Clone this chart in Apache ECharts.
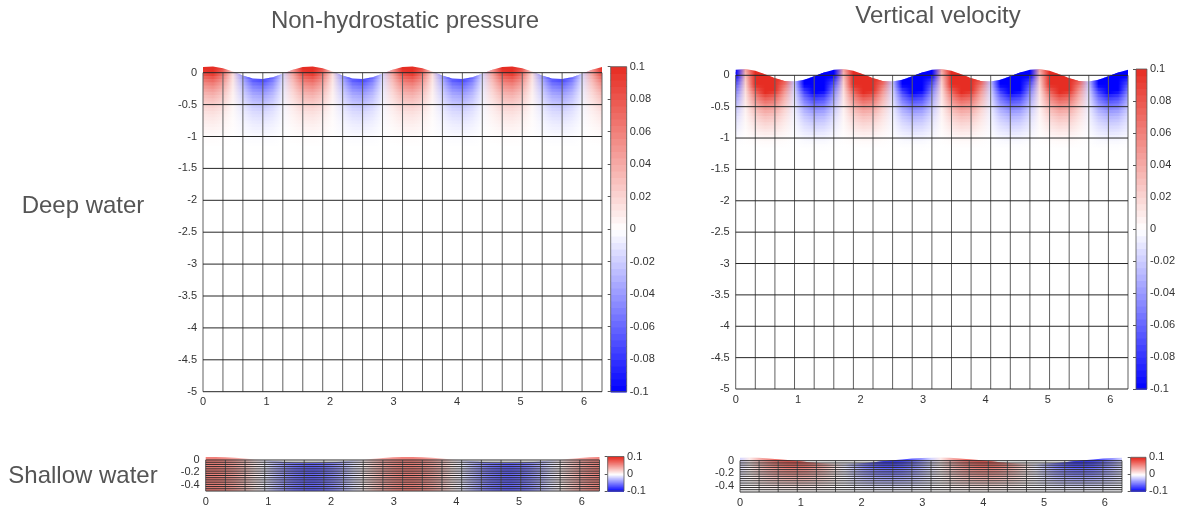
<!DOCTYPE html>
<html><head><meta charset="utf-8">
<script src="https://cdn.jsdelivr.net/npm/echarts@6/dist/echarts.min.js"></script>
<style>html,body{margin:0;padding:0;background:#fff}#c{width:1178px;height:512px}</style>
</head><body><div id="c"></div>
<script>
// ---- data grid ----
const sampleX = [0,0.157,0.314,0.471,0.628,0.785,0.942,1.100,1.257,1.414,1.571,1.728,1.885,2.042,2.199,2.356,2.513,2.670,2.827,2.985,3.142,3.299,3.456,3.613,3.770,3.927,4.084,4.241,4.398,4.555,4.712,4.869,5.027,5.184,5.341,5.498,5.655,5.812,5.969,6.126,6.283];
const meshX = [0,0.314,0.628,0.942,1.257,1.571,1.885,2.199,2.513,2.827,3.142,3.456,3.770,4.084,4.398,4.712,5.027,5.341,5.655,5.969,6.283];
const meshZDeep = [0,-0.5,-1,-1.5,-2,-2.5,-3,-3.5,-4,-4.5,-5];
const meshZShallow = [0,-0.036,-0.071,-0.107,-0.143,-0.179,-0.214,-0.25,-0.286,-0.321,-0.357,-0.393,-0.429,-0.464,-0.5];

// ---- deep water: surface elevation and surface values ----
const etaDeep = [0.089,0.099,0.071,0.017,-0.045,-0.089,-0.099,-0.071,-0.017,0.045,
                 0.089,0.099,0.071,0.017,-0.045,-0.089,-0.099,-0.071,-0.017,0.045,
                 0.089,0.099,0.071,0.017,-0.045,-0.089,-0.099,-0.071,-0.017,0.045,
                 0.089,0.099,0.071,0.017,-0.045,-0.089,-0.099,-0.071,-0.017,0.045,0.089];
const pressDeep = [0.089,0.099,0.071,0.017,-0.045,-0.089,-0.099,-0.071,-0.017,0.045,
                   0.089,0.099,0.071,0.017,-0.045,-0.089,-0.099,-0.071,-0.017,0.045,
                   0.089,0.099,0.071,0.017,-0.045,-0.089,-0.099,-0.071,-0.017,0.045,
                   0.089,0.099,0.071,0.017,-0.045,-0.089,-0.099,-0.071,-0.017,0.045,0.089];
const velDeep = [-0.101,0.033,0.154,0.217,0.197,0.101,-0.033,-0.154,-0.217,-0.197,
                 -0.101,0.033,0.154,0.217,0.197,0.101,-0.033,-0.154,-0.217,-0.197,
                 -0.101,0.033,0.154,0.217,0.197,0.101,-0.033,-0.154,-0.217,-0.197,
                 -0.101,0.033,0.154,0.217,0.197,0.101,-0.033,-0.154,-0.217,-0.197,-0.101];
const zLevelsDeep = [0.1,0.05,0,-0.05,-0.1,-0.15,-0.2,-0.25,-0.3,-0.35,-0.4,-0.45,-0.5,-0.55,-0.6,-0.65,-0.7,-0.75,-0.8,-0.85,-0.9,-0.95,-1.0,-1.05,-1.1,-1.15,-1.2];
const decayDeep = [1.3,1.15,1.0,0.87,0.76,0.66,0.57,0.5,0.43,0.37,0.32,0.28,0.24,0.2,0.17,0.14,0.12,0.1,0.08,0.065,0.05,0.035,0.02,0.012,0.006,0.002,0];

// ---- shallow water ----
const etaShallow = [0.049,0.050,0.046,0.037,0.025,0.010,-0.006,-0.021,-0.034,-0.044,-0.049,-0.050,-0.046,-0.037,-0.025,-0.010,0.006,0.021,0.034,0.044,
                    0.049,0.050,0.046,0.037,0.025,0.010,-0.006,-0.021,-0.034,-0.044,-0.049,-0.050,-0.046,-0.037,-0.025,-0.010,0.006,0.021,0.034,0.044,0.049];
const pressShallow = [0.059,0.060,0.055,0.044,0.030,0.012,-0.007,-0.025,-0.041,-0.052,-0.059,-0.060,-0.055,-0.044,-0.030,-0.012,0.007,0.025,0.041,0.052,
                      0.059,0.060,0.055,0.044,0.030,0.012,-0.007,-0.025,-0.041,-0.052,-0.059,-0.060,-0.055,-0.044,-0.030,-0.012,0.007,0.025,0.041,0.052,0.059];
const velShallow = [-0.016,0.009,0.033,0.054,0.070,0.078,0.080,0.073,0.059,0.039,0.016,-0.009,-0.033,-0.054,-0.070,-0.078,-0.080,-0.073,-0.059,-0.039,
                    -0.016,0.009,0.033,0.054,0.070,0.078,0.080,0.073,0.059,0.039,0.016,-0.009,-0.033,-0.054,-0.070,-0.078,-0.080,-0.073,-0.059,-0.039,-0.016];
const zLevelsShallow = [0.05,0,-0.05,-0.1,-0.15,-0.2,-0.25,-0.3,-0.35,-0.4,-0.45,-0.5];
const decayShallowP = [1,1,1,1,1,1,1,1,1,1,1,1];
const decayShallowW = [1.1,1.0,0.9,0.8,0.7,0.6,0.5,0.4,0.3,0.2,0.1,0];

// ---- labels ----
const titles = ['Non-hydrostatic pressure', 'Vertical velocity'];
const rowLabels = ['Deep water', 'Shallow water'];
const xTicks = [0,1,2,3,4,5,6];
const shallowYTicks = [0,-0.2,-0.4];
const colorRange = [-0.1, 0.1];

// ---- colormap ----
const cmapStops = [[-0.1,[0,0,255]],[0,[255,255,255]],[0.1,[230,45,35]]];
function cmap(v){
  v = Math.max(colorRange[0], Math.min(colorRange[1], v));
  for (let k=0;k<cmapStops.length-1;k++){
    const a=cmapStops[k], b=cmapStops[k+1];
    if (v>=a[0] && v<=b[0]){
      const t=(v-a[0])/(b[0]-a[0]);
      const c=a[1].map((ca,m)=>Math.round(ca+(b[1][m]-ca)*t));
      return 'rgb('+c.join(',')+')';
    }
  }
  return '#fff';
}

const FONT = "'Liberation Sans', Arial, Helvetica, sans-serif";

function fieldSeries(g, eta, surf, zl, f){
  const bands=[];
  for (let j=0;j<zl.length-1;j++) bands.push([zl[j], zl[j+1], (f[j]+f[j+1])/2]);
  const n=sampleX.length, xs=sampleX[0], xe=sampleX[n-1], nb=bands.length;
  return {
    type:'custom', coordinateSystem:'cartesian2d', xAxisIndex:g, yAxisIndex:g,
    clip:false, silent:true, animation:false, z:1,
    data:bands,
    renderItem(params, api){
      const zt=api.value(0), zb=api.value(1), fac=api.value(2);
      const ov = params.dataIndex < nb-1 ? (zt-zb)*0.5 : 0;
      const top=[], bot=[];
      for (let i=0;i<n;i++){
        top.push(api.coord([sampleX[i], Math.min(zt, eta[i])]));
        bot.push(api.coord([sampleX[i], Math.min(zb-ov, eta[i])]));
      }
      const pts=top.concat(bot.slice().reverse());
      const stops=surf.map((s,i)=>({offset:(sampleX[i]-xs)/(xe-xs), color:cmap(s*fac)}));
      const grad=new echarts.graphic.LinearGradient(top[0][0],0,top[n-1][0],0,stops,true);
      return {type:'polygon', shape:{points:pts}, style:{fill:grad}};
    }
  };
}

function meshSeries(g, mx, mz){
  const items=[];
  mx.forEach(x=>items.push([0,x]));
  mz.forEach(z=>items.push([1,z]));
  const x0=mx[0], x1=mx[mx.length-1], z0=mz[mz.length-1], z1=mz[0];
  return {
    type:'custom', coordinateSystem:'cartesian2d', xAxisIndex:g, yAxisIndex:g,
    clip:false, silent:true, animation:false, z:3,
    data:items,
    renderItem(params, api){
      const kind=api.value(0), v=api.value(1);
      let a,b,col;
      if (kind===0){ a=api.coord([v,z0]); b=api.coord([v,z1]); col='#606060'; }
      else { a=api.coord([x0,v]); b=api.coord([x1,v]); col='#262626'; }
      return {type:'line', shape:{x1:a[0],y1:a[1],x2:b[0],y2:b[1]}, style:{stroke:col, lineWidth:1}};
    }
  };
}

function colorbarSeries(g){
  return {
    type:'custom', coordinateSystem:'cartesian2d', xAxisIndex:g, yAxisIndex:g,
    clip:false, silent:true, animation:false, z:2,
    data:[colorRange],
    renderItem(params, api){
      const lo=api.value(0), hi=api.value(1), nb=50, children=[];
      for (let k=0;k<nb;k++){
        const v0=lo+(hi-lo)*k/nb, v1=lo+(hi-lo)*(k+1)/nb;
        const p0=api.coord([0,v0]), p1=api.coord([1,v1]);
        children.push({type:'rect', shape:{x:p0[0], y:p1[1], width:p1[0]-p0[0], height:p0[1]-p1[1]+0.8},
          style:{fill:cmap((v0+v1)/2)}});
      }
      const a=api.coord([0,lo]), b=api.coord([1,hi]);
      children.push({type:'rect', shape:{x:a[0], y:b[1], width:b[0]-a[0], height:a[1]-b[1]},
        style:{fill:null, stroke:'#555', lineWidth:0.8}});
      return {type:'group', children};
    }
  };
}

const grids = [
  {left:203, top:72.7, width:399, height:319},      // 0 deep p
  {left:610.7, top:66.7, width:16, height:325},     // 1 cb
  {left:735.7, top:75.3, width:392.3, height:313.7},// 2 deep w
  {left:1136, top:69, width:16.3, height:320},      // 3 cb
  {left:205.7, top:460, width:393.8, height:31},    // 4 shallow p
  {left:607.7, top:456.5, width:16.3, height:34.5}, // 5 cb
  {left:740, top:460.7, width:382, height:31.3},    // 6 shallow w
  {left:1130.7, top:457.3, width:15.3, height:33.7} // 7 cb
];

const lab = {fontSize:11, color:'#333', fontFamily:FONT};
function fieldX(g){ return {gridIndex:g, type:'value', min:0, max:6.283, interval:1,
  axisLine:{show:false}, axisTick:{show:false}, splitLine:{show:false},
  axisLabel:Object.assign({margin:5, formatter:v=>xTicks.includes(v)?String(v):''}, lab)}; }
function cbX(g){ return {gridIndex:g, type:'value', min:0, max:1, show:false}; }
function cbY(g, interval){ return {gridIndex:g, type:'value', position:'right', min:colorRange[0], max:colorRange[1], interval,
  axisLine:{show:false}, splitLine:{show:false},
  axisTick:{show:true, inside:true, length:3, lineStyle:{color:'#555'}},
  axisLabel:Object.assign({margin:3}, lab)}; }

const tStyle = {fontSize:24, fontWeight:'normal', color:'#555', fontFamily:FONT};
const option = {
  backgroundColor:'#fff',
  animation:false,
  title:[
    {text:titles[0], left:400, top:4, textAlign:'center', textStyle:tStyle},
    {text:titles[1], left:933, top:-1, textAlign:'center', textStyle:tStyle},
    {text:rowLabels[0], left:78, top:189, textAlign:'center', textStyle:tStyle},
    {text:rowLabels[1], left:78, top:459, textAlign:'center', textStyle:tStyle}
  ],
  grid:grids,
  xAxis:[fieldX(0), cbX(1), fieldX(2), cbX(3), fieldX(4), cbX(5), fieldX(6), cbX(7)],
  yAxis:[
    {gridIndex:0, type:'value', min:-5, max:0, interval:0.5, axisLine:{show:false}, axisTick:{show:false}, splitLine:{show:false}, axisLabel:Object.assign({margin:6}, lab)},
    cbY(1, 0.02),
    {gridIndex:2, type:'value', min:-5, max:0, interval:0.5, axisLine:{show:false}, axisTick:{show:false}, splitLine:{show:false}, axisLabel:Object.assign({margin:6}, lab)},
    cbY(3, 0.02),
    {gridIndex:4, type:'value', min:-0.5, max:0, axisLine:{show:false}, axisTick:{show:false}, splitLine:{show:false}, axisLabel:Object.assign({margin:6, customValues:shallowYTicks}, lab)},
    cbY(5, 0.1),
    {gridIndex:6, type:'value', min:-0.5, max:0, axisLine:{show:false}, axisTick:{show:false}, splitLine:{show:false}, axisLabel:Object.assign({margin:6, customValues:shallowYTicks}, lab)},
    cbY(7, 0.1)
  ],
  series:[
    fieldSeries(0, etaDeep, pressDeep, zLevelsDeep, decayDeep),
    meshSeries(0, meshX, meshZDeep),
    colorbarSeries(1),
    fieldSeries(2, etaDeep, velDeep, zLevelsDeep, decayDeep),
    meshSeries(2, meshX, meshZDeep),
    colorbarSeries(3),
    fieldSeries(4, etaShallow, pressShallow, zLevelsShallow, decayShallowP),
    meshSeries(4, meshX, meshZShallow),
    colorbarSeries(5),
    fieldSeries(6, etaShallow, velShallow, zLevelsShallow, decayShallowW),
    meshSeries(6, meshX, meshZShallow),
    colorbarSeries(7)
  ]
};
const chart = echarts.init(document.getElementById('c'), null, {renderer:'canvas'});
chart.setOption(option);
</script></body></html>
